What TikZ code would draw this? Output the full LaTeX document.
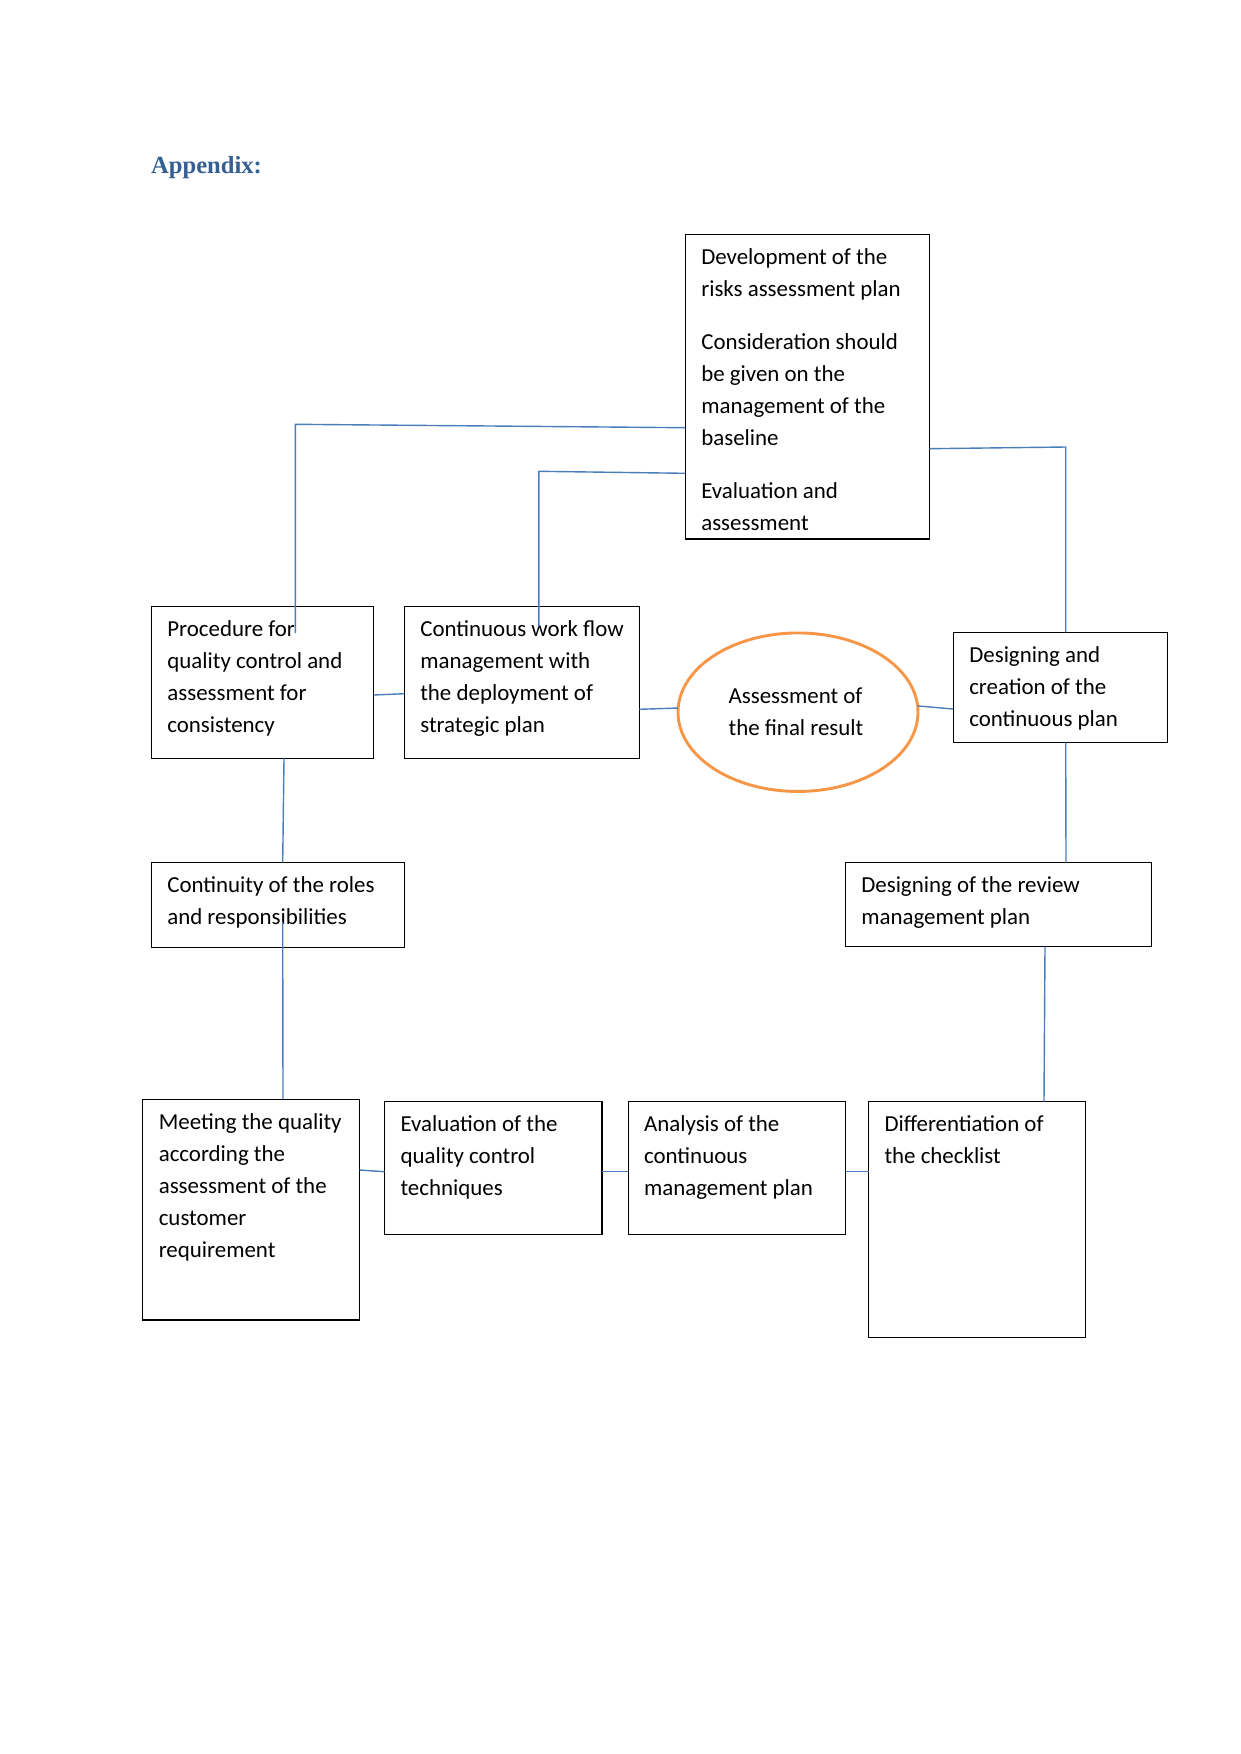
\documentclass[tikz,border=0pt]{standalone}
\usepackage{fontspec}
\setmainfont{Carlito}
\newfontfamily\headfont{Liberation Serif}
\usetikzlibrary{shapes.geometric,calc}
\definecolor{linkblue}{HTML}{4A7EBB}
\definecolor{heading}{HTML}{365F91}
\definecolor{ellline}{HTML}{F79646}
\newcommand\boxtext[3]{\begin{minipage}[t][#2pt][t]{#1pt}\raggedright\leftskip=16pt\relax\parskip=0pt\parindent=0pt\vspace*{7.6pt}\strut #3\end{minipage}}
\tikzset{
  bodyfont/.style={font=\fontsize{22.9}{32}\selectfont},
  box/.style={draw=black, line width=1.2pt, inner sep=0pt, outer sep=0pt, bodyfont},
  link/.style={draw=linkblue, line width=1.4pt},
}
\begin{document}
\begin{tikzpicture}[x=1pt,y=-1pt]
\useasboundingbox (0,0) rectangle (1241,1754);
\node[anchor=base west, inner sep=0pt, text=heading, font=\headfont\fontsize{24.6}{28}\selectfont\bfseries] (title) at (151,173) {Appendix:};

\node[box] (top) at (807.3,386.65) {\boxtext{244}{304.7}{Development of the\\risks assessment plan\\[21pt]Consideration should\\be given on the\\management of the\\baseline\\[21pt]Evaluation and\\assessment}};
\node[box] (proc) at (262.5,682.5) {\boxtext{222.2}{151.6}{Procedure for\\quality control and\\assessment for\\consistency}};
\node[box] (cont) at (521.8,682.5) {\boxtext{235}{151.6}{Continuous work flow\\management with\\the deployment of\\strategic plan}};
\node[ellipse, draw=ellline, line width=2.9pt, fill=white, minimum width=240pt, minimum height=158.5pt, inner sep=0pt, outer sep=0pt, align=left, bodyfont] (ell) at (798,712.2) {Assessment of\hspace*{4pt}\\the final result\hspace*{4pt}};
\node[box] (des) at (1060.3,687.3) {\boxtext{214}{110}{Designing and\\creation of the\\continuous plan}};
\node[box] (contin) at (278,905) {\boxtext{253.4}{84.6}{Continuity of the roles\\and responsibilities}};
\node[box] (review) at (998.5,904.7) {\boxtext{306.4}{84}{Designing of the review\\management plan}};
\node[box] (meeting) at (251.2,1209.65) {\boxtext{216.8}{220.7}{Meeting the quality\\according the\\assessment of the\\customer\\requirement}};
\node[box] (eval) at (493.25,1168) {\boxtext{217.5}{132.6}{Evaluation of the\\quality control\\techniques}};
\node[box] (analysis) at (736.85,1168) {\boxtext{217.5}{132.6}{Analysis of the\\continuous\\management plan}};
\node[box] (diff) at (976.95,1219.5) {\boxtext{216.9}{235.6}{Differentiation of\\the checklist}};

\coordinate (b1) at (295.4,424.3);
\coordinate (b2) at (538.9,471.3);
\coordinate (b6) at (1065.7,447);

\draw[link] ($(top.north west)+(0,193.4)$) -- (b1) -- ($(proc.north west)+(144,26.3)$);
\draw[link] ($(top.north west)+(0,239)$) -- (b2) -- ($(cont.north west)+(134.6,20)$);
\draw[link] ($(proc.north east)+(0,88.3)$) -- ($(cont.north west)+(0,87)$);
\draw[link] ($(cont.north east)+(0,102.6)$) -- (ell.178.6);
\draw[link] (ell.3.8) -- ($(des.north west)+(0,76.7)$);
\draw[link] ($(top.north east)+(0,214.4)$) -- (b6) -- (b6 |- des.north);
\draw[link] ($(des.south west)+(112.4,0)$) -- ($(review.north west)+(220.7,0)$);
\draw[link] ($(proc.south west)+(132.6,0)$) -- ($(contin.north west)+(131.4,0)$);
\draw[link] ($(contin.north west)+(131.4,59.3)$) -- ($(meeting.north west)+(140.2,0)$);
\draw[link] ($(review.south west)+(199.7,0)$) -- ($(diff.north west)+(175.5,0)$);
\draw[link] ($(meeting.north east)+(0,70.7)$) -- ($(eval.north west)+(0,70)$);
\draw[link] ($(eval.north east)+(0,70)$) -- ($(analysis.north west)+(0,70)$);
\draw[link] ($(analysis.north east)+(0,70)$) -- ($(diff.north west)+(0,70)$);
\end{tikzpicture}
\end{document}
